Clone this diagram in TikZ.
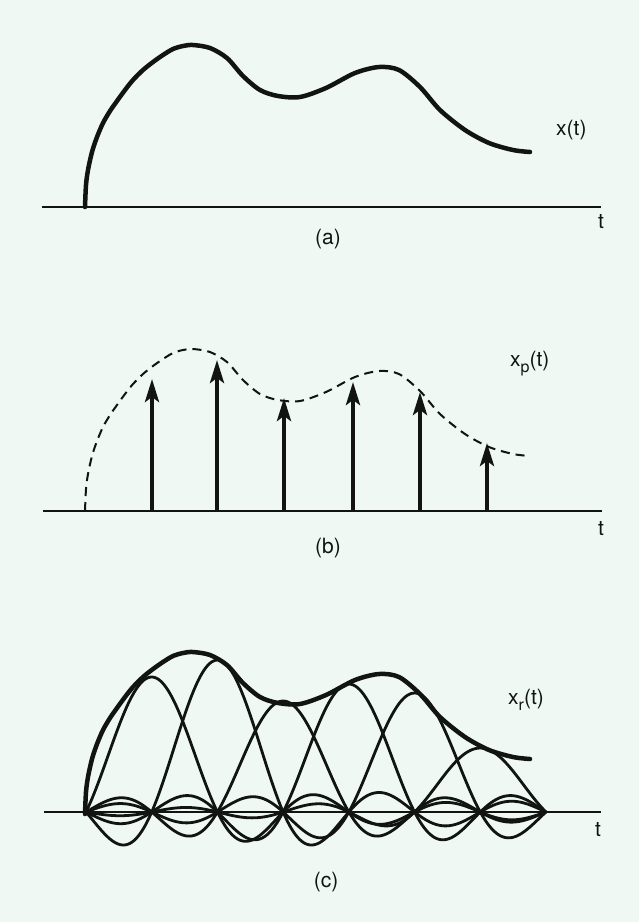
\documentclass[tikz,border=0pt]{standalone}
\usepackage{fontspec}
\setmainfont{TeX Gyre Heros}
\usetikzlibrary{arrows.meta}
\definecolor{bgc}{HTML}{EFF8F3}
\definecolor{ink}{HTML}{111411}
\newcommand\sigcurve[1]{\draw[#1] plot[smooth,tension=0.5] coordinates {(85,0) (86,-22) (88,-37) (92,-55) (97,-70) (103,-84) (110,-96) (117,-106) (125,-117) (133,-127) (143,-137) (153,-145) (163,-152) (173,-158) (183,-161) (193,-162) (210,-159) (227,-149) (243,-131) (260,-117) (278,-111) (300,-110) (326,-119) (355,-134) (379,-140) (399,-137) (420,-120) (440,-97) (465,-77) (489,-64) (513,-57) (530,-55)};}
\tikzset{
  axisline/.style={draw=ink,line width=2pt},
  sigline/.style={draw=ink,line width=4.5pt,line cap=round,line join=round},
  dashline/.style={draw=ink,line width=2pt,dash pattern=on 9pt off 6pt},
  stem/.style={draw=ink,line width=4pt,-{Stealth[length=23pt,width=14pt,inset=5pt]}},
  sincline/.style={draw=ink,line width=2.8pt,line join=round},
  lbl/.style={text=ink,inner sep=0pt,font=\fontsize{21}{21}\selectfont}
}
\newcommand\subs[1]{\raisebox{-0.3em}{\fontsize{16}{16}\selectfont #1}}
\begin{document}
\begin{tikzpicture}[x=1pt,y=-1pt]
\useasboundingbox (0,0) rectangle (639,922);
\fill[bgc] (0,0) rectangle (639,922);

% ---------- (a)
\begin{scope}[shift={(0,207)}]
  \coordinate (a0) at (42,0);
  \coordinate (a1) at (601,0);
  \draw[axisline] (a0) -- (a1);
  \sigcurve{sigline}
\end{scope}
\node[lbl,anchor=base west] (xa) at (556,135) {x(t)};
\node[lbl,anchor=base] (ta) at (601,228) {t};
\node[lbl,anchor=base] (capa) at (328,244) {(a)};

% ---------- (b)
\begin{scope}[shift={(0,511)}]
  \coordinate (b0) at (43,0);
  \coordinate (b1) at (602,0);
  \draw[axisline] (b0) -- (b1);
  \sigcurve{dashline}
\end{scope}
\foreach \i/\xx/\yy in {1/152/379,2/217/360,3/284/398,4/353/382,5/420/392,6/487/443}{
  \coordinate (bs\i) at (\xx,511);
  \coordinate (bt\i) at (\xx,\yy);
  \draw[stem] (bs\i) -- (bt\i);
}
\node[lbl,anchor=base west] (xb) at (510,366) {x\subs{p}(t)};
\node[lbl,anchor=base] (tb) at (601,535) {t};
\node[lbl,anchor=base] (capb) at (328,553) {(b)};

% ---------- (c)
\begin{scope}[shift={(0,812)}]
  \coordinate (c0) at (44,0);
  \coordinate (c1) at (601,0);
  \draw[axisline] (c0) -- (c1);
  \foreach \k/\h in {1/135,2/152,3/111,4/128,5/119,6/64}{
    \draw[sincline] plot[domain=86:546,samples=231,smooth]
      (\x,{-\h*sin(180*((\x-86)/65.714-\k+0.0001))/(3.14159*((\x-86)/65.714-\k+0.0001))});
  }
\end{scope}
\begin{scope}[shift={(0,814)}]
  \sigcurve{sigline}
\end{scope}
\node[lbl,anchor=base west] (xc) at (508,704) {x\subs{r}(t)};
\node[lbl,anchor=base] (tc) at (598,836) {t};
\node[lbl,anchor=base] (capc) at (326,887) {(c)};
\end{tikzpicture}
\end{document}
